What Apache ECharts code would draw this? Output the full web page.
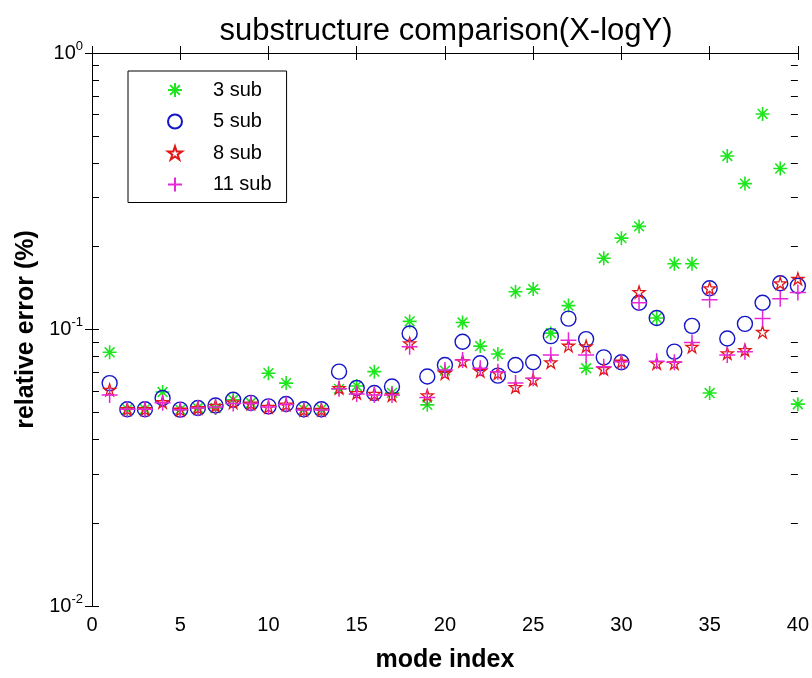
<!DOCTYPE html>
<html>
<head>
<meta charset="utf-8">
<title>substructure comparison</title>
<script src="https://cdn.jsdelivr.net/npm/echarts@6/dist/echarts.min.js"></script>
<style>
html, body { margin: 0; padding: 0; background: #fff; }
#tu1 { width: 812px; height: 678px; }
</style>
</head>
<body>
<div id="tu1"></div>
<script>
// mode index 1..40
var modes = [];
for (var i = 1; i <= 40; i++) modes.push(i);

// relative error (%)
var sub3 = [0.0827, 0.0515, 0.0515, 0.0594, 0.0513, 0.052, 0.052, 0.0557, 0.0543, 0.0695,
            0.064, 0.0515, 0.0515, 0.061, 0.0625, 0.0704, 0.059, 0.107, 0.0534, 0.071,
            0.106, 0.0871, 0.0815, 0.137, 0.140, 0.097, 0.122, 0.0724, 0.181, 0.214,
            0.236, 0.110, 0.173, 0.173, 0.0589, 0.424, 0.337, 0.602, 0.382, 0.0537];
var sub5 = [0.064, 0.0515, 0.0515, 0.0565, 0.0513, 0.052, 0.0531, 0.0557, 0.0543, 0.0527,
            0.0538, 0.0515, 0.0515, 0.0704, 0.0614, 0.0589, 0.0622, 0.0967, 0.0676, 0.0744,
            0.0903, 0.0755, 0.0681, 0.0744, 0.0761, 0.0946, 0.1095, 0.0923, 0.0793, 0.0761,
            0.125, 0.110, 0.0832, 0.1031, 0.141, 0.0928, 0.1048, 0.125, 0.147, 0.144];
var sub8 = [0.0605, 0.0515, 0.0515, 0.0546, 0.0513, 0.052, 0.053, 0.0545, 0.054, 0.0525,
            0.0535, 0.0512, 0.0512, 0.0614, 0.0589, 0.0585, 0.0578, 0.0891, 0.0578, 0.0695,
            0.0769, 0.0708, 0.0695, 0.0619, 0.0658, 0.0761, 0.0874, 0.087, 0.072, 0.0765,
            0.1366, 0.0755, 0.0755, 0.0866, 0.141, 0.082, 0.0843, 0.098, 0.147, 0.1526];
var sub11 = [0.058, 0.0515, 0.0515, 0.0543, 0.0513, 0.052, 0.0525, 0.054, 0.054, 0.0525,
             0.0535, 0.0512, 0.0512, 0.061, 0.0585, 0.058, 0.058, 0.0866, 0.0568, 0.0714,
             0.0775, 0.0724, 0.0704, 0.064, 0.0667, 0.0808, 0.0915, 0.0808, 0.0734, 0.0765,
             0.125, 0.0768, 0.0761, 0.0898, 0.128, 0.0808, 0.0831, 0.1095, 0.1293, 0.136];

var names = ['3 sub', '5 sub', '8 sub', '11 sub'];

// minor ticks of the log axis (2..9 of each decade), as log10 values
var minorTicks = [];
[0.01, 0.1].forEach(function (d) {
    for (var k = 2; k <= 9; k++) minorTicks.push(Math.log10(k * d));
});

var FONT = 'Liberation Sans, Arial, sans-serif';

var asterisk = 'path://M10,0L10,20M0,10L20,10M3,3L17,17M3,17L17,3';
var plus = 'path://M10,0L10,20M0,10L20,10';
var pentagram = 'path://M10,0L12.245,6.91L19.51,6.91L13.633,11.18L15.88,18.09L10,13.82L4.12,18.09L6.367,11.18L0.49,6.91L7.755,6.91Z';

function pairs(arr) {
    return arr.map(function (v, k) { return [modes[k], v]; });
}

var myChart = echarts.init(document.getElementById('tu1'));

var tickStyle = { inside: true, length: 7, lineStyle: { color: '#000', width: 1 } };

var option = {
    backgroundColor: '#fff',
    animation: false,
    title: {
        text: 'substructure comparison(X-logY)',
        left: 441, top: 11, textAlign: 'center',
        textStyle: { fontFamily: FONT, fontSize: 31, fontWeight: 'normal', color: '#000' }
    },
    legend: {
        orient: 'vertical',
        left: 128, top: 71,
        data: names,
        itemWidth: 14, itemHeight: 20, itemGap: 11.5,
        padding: [9, 15, 8, 39],
        borderColor: '#000', borderWidth: 1,
        backgroundColor: '#fff',
        textStyle: { fontFamily: FONT, fontSize: 20, color: '#000', padding: [0, 0, 0, 26] }
    },
    grid: { left: 92, right: 12, top: 53, bottom: 68, containLabel: false },
    xAxis: [
        {
            type: 'value', min: 0, max: 40, interval: 5,
            name: 'mode index', nameLocation: 'middle', nameGap: 42,
            nameTextStyle: { fontFamily: FONT, fontSize: 25, fontWeight: 'bold', color: '#000' },
            axisLine: { lineStyle: { color: '#000', width: 1 } },
            axisTick: tickStyle,
            axisLabel: { fontFamily: FONT, fontSize: 20, color: '#000', margin: 9 },
            splitLine: { show: false }
        },
        {
            type: 'value', min: 0, max: 40, interval: 5, position: 'top',
            axisLine: { lineStyle: { color: '#000', width: 1 } },
            axisTick: tickStyle,
            axisLabel: { show: false },
            splitLine: { show: false }
        }
    ],
    yAxis: [
        {
            type: 'log', logBase: 10, min: 0.01, max: 1,
            name: 'relative error (%)', nameLocation: 'middle', nameGap: 48, nameRotate: 90,
            nameTextStyle: { fontFamily: FONT, fontSize: 25, fontWeight: 'bold', color: '#000' },
            axisLine: { lineStyle: { color: '#000', width: 1 } },
            axisTick: tickStyle,
            axisLabel: {
                margin: 9,
                formatter: function (v) {
                    return '{b|10}{s|' + Math.round(Math.log10(v)) + '}';
                },
                rich: {
                    b: { fontFamily: FONT, fontSize: 20, color: '#000' },
                    s: { fontFamily: FONT, fontSize: 13, color: '#000', padding: [0, 0, 14, 0] }
                }
            },
            splitLine: { show: false }
        },
        {
            type: 'log', logBase: 10, min: 0.01, max: 1, position: 'right',
            axisLine: { lineStyle: { color: '#000', width: 1 } },
            axisTick: tickStyle,
            axisLabel: { show: false },
            splitLine: { show: false }
        },
        {
            type: 'value', min: -2, max: 0, position: 'left',
            axisLine: { show: false },
            axisTick: { inside: true, length: 7, customValues: minorTicks, lineStyle: { color: '#000' } },
            axisLabel: { show: false },
            splitLine: { show: false }
        },
        {
            type: 'value', min: -2, max: 0, position: 'right',
            axisLine: { show: false },
            axisTick: { inside: true, length: 7, customValues: minorTicks, lineStyle: { color: '#000' } },
            axisLabel: { show: false },
            splitLine: { show: false }
        }
    ],
    series: [
        {
            name: '3 sub', type: 'scatter', symbol: asterisk, symbolSize: 14,
            itemStyle: { color: '#1ee61e', borderColor: '#1ee61e', borderWidth: 1.6, opacity: 1 },
            data: pairs(sub3)
        },
        {
            name: '5 sub', type: 'scatter', symbol: 'circle', symbolSize: 15,
            itemStyle: { color: 'rgba(0,0,0,0)', borderColor: '#1414c8', borderWidth: 1.4, opacity: 1 },
            data: pairs(sub5)
        },
        {
            name: '8 sub', type: 'scatter', symbol: pentagram, symbolSize: 12,
            itemStyle: { color: 'rgba(0,0,0,0)', borderColor: '#e01818', borderWidth: 1.3, opacity: 1 },
            data: pairs(sub8)
        },
        {
            name: '11 sub', type: 'scatter', symbol: plus, symbolSize: 16,
            itemStyle: { color: '#e826d8', borderColor: '#e826d8', borderWidth: 1.5, opacity: 1 },
            data: pairs(sub11)
        }
    ]
};

myChart.setOption(option);
</script>
</body>
</html>
